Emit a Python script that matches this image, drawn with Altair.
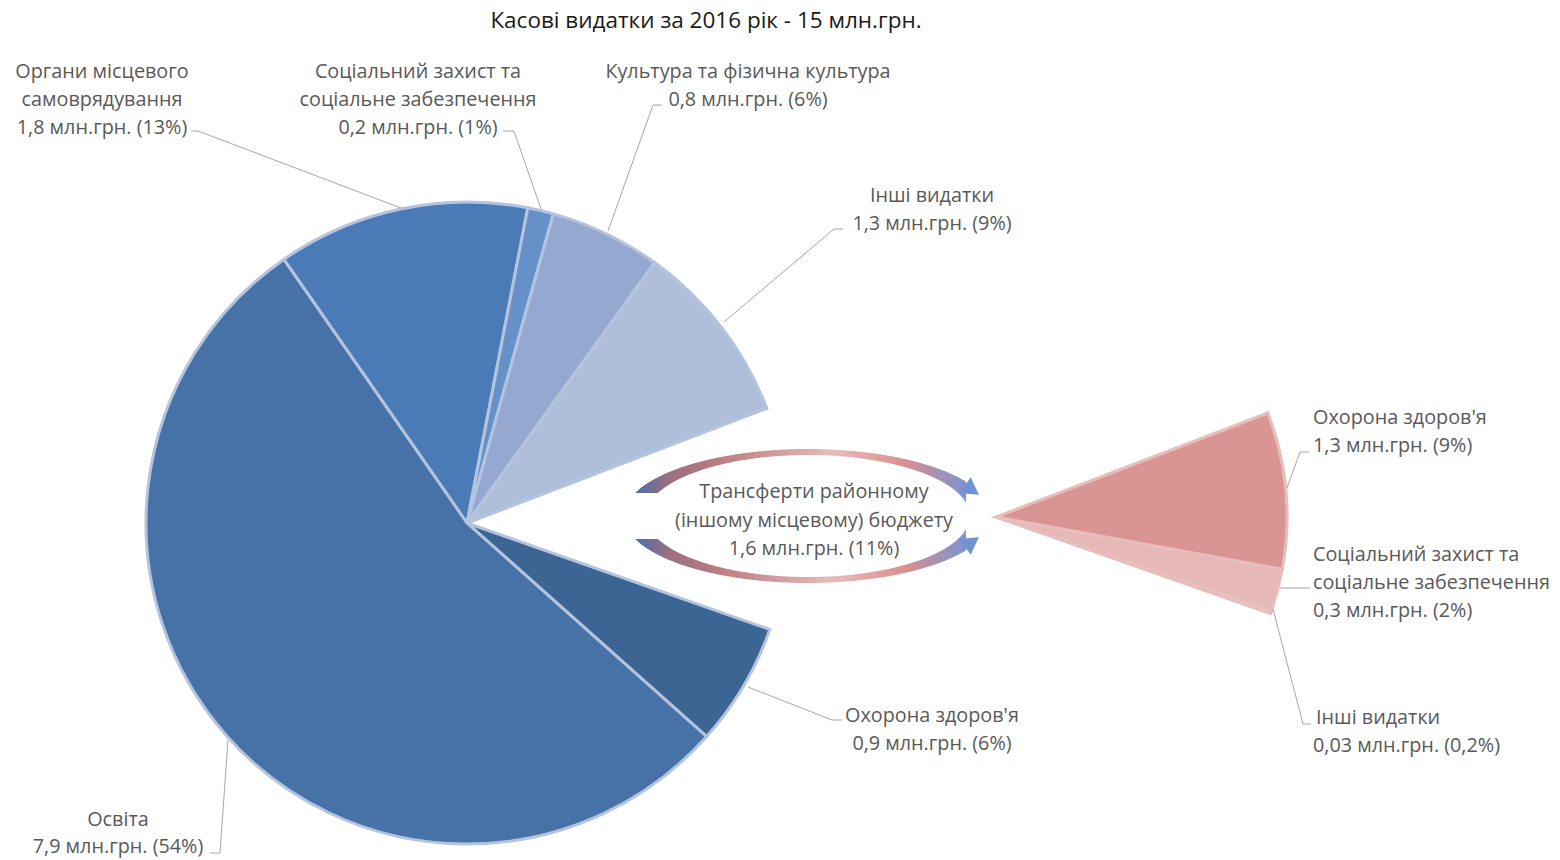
import altair as alt
import pandas as pd
import numpy as np

W, H = 1544, 852
OFF = 8  # page margin; layout positions below are page pixels

# ---------------- data ----------------
slice_names = [
    "Органи місцевого самоврядування",
    "Соціальний захист та соціальне забезпечення",
    "Культура та фізична культура",
    "Інші видатки",
    "Трансферти: Охорона здоров'я",
    "Трансферти: Соціальний захист та соціальне забезпечення",
    "Трансферти: Інші видатки",
    "Охорона здоров'я",
    "Освіта",
]
slice_share = [12.7, 1.3, 5.6, 9.25, 8.7, 2.3, 0.2, 6.2, 53.75]  # % of 15 млн.грн.
slice_group = ["main", "main", "main", "main", "transfer", "transfer", "transfer", "main", "main"]
slice_colors = ["#4a7bb7", "#6690c8", "#95a9d0", "#afbfda",
                "#d99594", "#e6b8b7", "#efcfce", "#3d6594", "#4672a7"]

title_text = "Касові видатки за 2016 рік - 15 млн.грн."

center_labels = [
    "Органи місцевого", "самоврядування", "1,8 млн.грн. (13%)",
    "Соціальний захист та", "соціальне забезпечення", "0,2 млн.грн. (1%)",
    "Культура та фізична культура", "0,8 млн.грн. (6%)",
    "Інші видатки", "1,3 млн.грн. (9%)",
    "Охорона здоров'я", "0,9 млн.грн. (6%)",
    "Освіта", "7,9 млн.грн. (54%)",
    "Трансферти районному", "(іншому місцевому) бюджету", "1,6 млн.грн. (11%)",
]
center_label_pos = [
    (102, 72), (102, 100), (102, 128),
    (418, 72), (418, 100), (418, 128),
    (748, 72), (748, 100),
    (932, 196), (932, 224),
    (932, 716), (932, 744),
    (118, 820), (118, 847),
    (814, 492), (814, 521), (814, 549),
]
left_labels = [
    "Охорона здоров'я", "1,3 млн.грн. (9%)",
    "Соціальний захист та", "соціальне забезпечення", "0,3 млн.грн. (2%)",
    "Інші видатки", "0,03 млн.грн. (0,2%)",
]
left_label_pos = [
    (1313, 418), (1313, 446),
    (1313, 555), (1313, 583), (1313, 611),
    (1316, 718), (1313, 746),
]
leaders = [
    [(191, 131), (198, 131), (401, 208)],
    [(503, 131), (514, 131), (541, 209)],
    [(662, 105), (653, 105), (608, 231)],
    [(843, 229), (834, 229), (724, 322)],
    [(748, 687), (832, 720), (842, 720)],
    [(228, 740), (220, 853), (210, 853)],
    [(1287, 488), (1300, 452), (1309, 452)],
    [(1280, 588), (1310, 588)],
    [(1273, 609), (1303, 724), (1311, 724)],
]

# ---------------- layout ----------------
FONT = "Open Sans"
FS = 19.8
LEFT_C = (467, 523)
RIGHT_C = (996, 517)
START = np.deg2rad(-34.8)

xs = alt.Scale(domain=[OFF, W + OFF], range=[0, W], zero=False, nice=False)
ys = alt.Scale(domain=[OFF, H + OFF], range=[0, H], zero=False, nice=False)

pie_df = pd.DataFrame({"cat": slice_names, "share": slice_share,
                       "group": slice_group, "idx": range(len(slice_names))})
theta = alt.Theta("share:Q", stack=True, scale=alt.Scale(range=[START, START + 2 * np.pi]))
fill = alt.Fill("cat:N", scale=alt.Scale(domain=slice_names, range=slice_colors), legend=None)

show_main = alt.when(alt.datum.group == "main").then(alt.value(1)).otherwise(alt.value(0))
show_tr = alt.when(alt.datum.group == "transfer").then(alt.value(1)).otherwise(alt.value(0))

left_pie = alt.Chart(pie_df).mark_arc(outerRadius=321, stroke="#b4c4df", strokeWidth=3).encode(
    theta=theta, fill=fill, order=alt.Order("idx:Q"),
    x=alt.value(LEFT_C[0] - OFF), y=alt.value(LEFT_C[1] - OFF),
    fillOpacity=show_main, strokeOpacity=show_main,
)
right_pie = alt.Chart(pie_df).mark_arc(outerRadius=291, stroke="#e8bebd", strokeWidth=3).encode(
    theta=theta, fill=fill, order=alt.Order("idx:Q"),
    x=alt.value(RIGHT_C[0] - OFF), y=alt.value(RIGHT_C[1] - OFF),
    fillOpacity=show_tr, strokeOpacity=show_tr,
)

# leader lines
lead_rows = []
for i, pts in enumerate(leaders):
    for k, (px, py) in enumerate(pts):
        lead_rows.append({"id": i, "k": k, "x": px, "y": py})
lead = alt.Chart(pd.DataFrame(lead_rows)).mark_line(color="#a6a6a6", strokeWidth=1).encode(
    x=alt.X("x:Q", scale=xs, axis=None), y=alt.Y("y:Q", scale=ys, axis=None),
    detail="id:N", order="k:Q")

# labels
cl = pd.DataFrame({"t": center_labels, "x": [p[0] for p in center_label_pos],
                   "y": [p[1] for p in center_label_pos]})
ll = pd.DataFrame({"t": left_labels, "x": [p[0] for p in left_label_pos],
                   "y": [p[1] for p in left_label_pos]})
txt_c = alt.Chart(cl).mark_text(font=FONT, fontSize=FS, color="#595959", align="center",
                                baseline="middle").encode(
    x=alt.X("x:Q", scale=xs, axis=None), y=alt.Y("y:Q", scale=ys, axis=None), text="t:N")
txt_l = alt.Chart(ll).mark_text(font=FONT, fontSize=FS, color="#595959", align="left",
                                baseline="middle").encode(
    x=alt.X("x:Q", scale=xs, axis=None), y=alt.Y("y:Q", scale=ys, axis=None), text="t:N")
title = alt.Chart(pd.DataFrame({"t": [title_text], "x": [706], "y": [21]})).mark_text(
    font=FONT, fontSize=22.5, color="#1a1a1a", align="center", baseline="middle").encode(
    x=alt.X("x:Q", scale=xs, axis=None), y=alt.Y("y:Q", scale=ys, axis=None), text="t:N")

# curved arrows around the transfer label (decoration)
cx, cy = 808, 516
a1, b1, a2, b2 = 184, 67, 162, 61
cut = 23
xx = np.linspace(cx - a1 * np.sqrt(1 - (cut / b1) ** 2), cx + 158, 240)
dx = xx - cx
outer = b1 * np.sqrt(np.clip(1 - (dx / a1) ** 2, 0, 1))
inner = b2 * np.sqrt(np.clip(1 - (dx / a2) ** 2, 0, 1))
inner = np.where(dx < 0, np.maximum(inner, cut), inner)
top_df = pd.DataFrame({"x": xx, "y": cy - outer, "y2": cy - inner})
bot_df = pd.DataFrame({"x": xx, "y": cy + outer, "y2": cy + inner})
grad = alt.Gradient(gradient="linear", x1=0, x2=1, y1=0, y2=0, stops=[
    alt.GradientStop(color="#4a6ea9", offset=0),
    alt.GradientStop(color="#9a6f80", offset=0.1),
    alt.GradientStop(color="#bb7c80", offset=0.25),
    alt.GradientStop(color="#e6bcbc", offset=0.6),
    alt.GradientStop(color="#d98f8f", offset=0.82),
    alt.GradientStop(color="#7a94d2", offset=1),
])
arc_top = alt.Chart(top_df).mark_area(fill=grad).encode(
    x=alt.X("x:Q", scale=xs, axis=None), y=alt.Y("y:Q", scale=ys, axis=None), y2="y2:Q")
arc_bot = alt.Chart(bot_df).mark_area(fill=grad).encode(
    x=alt.X("x:Q", scale=xs, axis=None), y=alt.Y("y:Q", scale=ys, axis=None), y2="y2:Q")
heads = alt.Chart(pd.DataFrame({"x": [972, 972], "y": [490, 542], "a": [35, 325]})).mark_point(
    shape="triangle-right", filled=True, size=380, color="#6f92d2", opacity=1).encode(
    x=alt.X("x:Q", scale=xs, axis=None), y=alt.Y("y:Q", scale=ys, axis=None),
    angle=alt.Angle("a:Q", scale=None))

chart = alt.layer(left_pie, right_pie, arc_top, arc_bot, heads, lead, txt_c, txt_l, title).properties(
    width=W, height=H, autosize=alt.AutoSizeParams(type="none"), padding=0
).configure(background="white").configure_view(strokeWidth=0)

chart.save("out.html", embed_options={"renderer": "svg", "actions": False})
